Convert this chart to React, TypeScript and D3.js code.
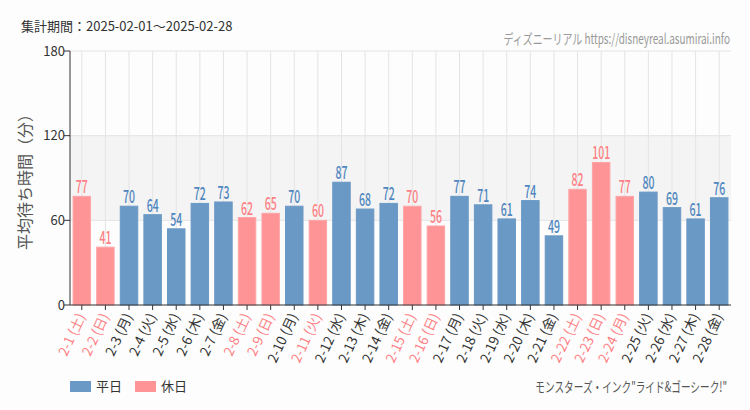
import React from "react";
import * as d3 from "d3";

const dates = ["2-1","2-2","2-3","2-4","2-5","2-6","2-7","2-8","2-9","2-10","2-11","2-12","2-13","2-14","2-15","2-16","2-17","2-18","2-19","2-20","2-21","2-22","2-23","2-24","2-25","2-26","2-27","2-28"];
const weekdays = ["土","日","月","火","水","木","金","土","日","月","火","水","木","金","土","日","月","火","水","木","金","土","日","月","火","水","木","金"];
const values = [77,41,70,64,54,72,73,62,65,70,60,87,68,72,70,56,77,71,61,74,49,82,101,77,80,69,61,76];
const holidays = [true,true,false,false,false,false,false,true,true,false,true,false,false,false,true,true,false,false,false,false,false,true,true,true,false,false,false,false];
const yTicks = [0, 60, 120, 180];

const W = 750, H = 410;
const M = { left: 70, right: 731, top: 51, bottom: 305 };
const BLUE = "#6a99c6";
const PINK = "#ff9497";
const BLUE_TXT = "#4f86bf";
const PINK_TXT = "#ff7f84";
const JP = "'Noto Sans CJK JP', 'Noto Sans', sans-serif";
const NARROW = "'Noto Sans CJK JP', 'Noto Sans', sans-serif";

export default function App() {
  const x = d3.scaleBand<number>().domain(d3.range(dates.length)).range([M.left, M.right]).paddingInner(0.26).paddingOuter(0.13);
  const y = d3.scaleLinear().domain([0, 180]).range([M.bottom, M.top]);
  const cx = (i: number) => (x(i) as number) + x.bandwidth() / 2;

  return (
    <svg width={W} height={H} style={{ position: "fixed", left: 0, top: 0, background: "#fcfdfc" }}>
      <rect x={0} y={0} width={W} height={H} fill="#fcfdfc" />
      <text x={21} y={31} fontFamily={JP} fontSize={13} fill="#333">集計期間：2025-02-01～2025-02-28</text>
      <text transform="translate(730,44) scale(0.71,1)" textAnchor="end" fontFamily={NARROW} fontSize={14} fill="#999">ディズニーリアル https://disneyreal.asumirai.info</text>

      {/* shaded band 60-120 */}
      <rect x={M.left} y={y(120)} width={M.right - M.left} height={y(60) - y(120)} fill="#f3f4f3" />

      {/* vertical grid */}
      {dates.map((_, i) => (
        <line key={"vg" + i} x1={cx(i)} x2={cx(i)} y1={M.top} y2={M.bottom} stroke="#e4e4e4" strokeWidth={1} />
      ))}
      {/* horizontal grid */}
      {yTicks.filter(t => t > 0).map(t => (
        <line key={"hg" + t} x1={M.left} x2={M.right} y1={y(t)} y2={y(t)} stroke="#e4e4e4" strokeWidth={1} />
      ))}

      {/* bars */}
      {values.map((v, i) => (
        <rect key={"b" + i} x={x(i)} y={y(v)} width={x.bandwidth()} height={M.bottom - y(v)}
          fill={holidays[i] ? PINK : BLUE} stroke={holidays[i] ? "#ffa5a8" : "#6a99c6"} strokeWidth={1} />
      ))}
      {/* value labels */}
      {values.map((v, i) => (
        <text key={"v" + i} transform={`translate(${cx(i)},${y(v) - 3}) scale(0.6,1)`} textAnchor="middle" fontFamily={NARROW} fontSize={17.5} fontWeight={500}
          fill={holidays[i] ? PINK_TXT : BLUE_TXT}>{v}</text>
      ))}

      {/* y axis */}
      <line x1={M.left} x2={M.left} y1={M.top} y2={M.bottom} stroke="#333" />
      {yTicks.map(t => (
        <g key={"yt" + t}>
          <line x1={M.left - 6} x2={M.left} y1={y(t)} y2={y(t)} stroke="#333" />
          <text x={M.left - 5} y={y(t) + 4.5} textAnchor="end" fontFamily={JP} fontSize={13} fill="#333">{t}</text>
        </g>
      ))}
      <text transform={`translate(31,${(M.top + M.bottom) / 2}) rotate(-90)`} textAnchor="middle" fontFamily={JP} fontSize={16} fill="#555">平均待ち時間（分）</text>

      {/* x axis */}
      <line x1={M.left} x2={M.right} y1={M.bottom} y2={M.bottom} stroke="#333" />
      {dates.map((d, i) => (
        <g key={"xt" + i}>
          <line x1={cx(i)} x2={cx(i)} y1={M.bottom} y2={M.bottom + 5} stroke="#333" />
          <text transform={`translate(${cx(i) + 4},${M.bottom + 11}) rotate(-65)`} textAnchor="end" fontFamily={JP} fontSize={13.5}
            fill={holidays[i] ? PINK_TXT : "#333"}>{`${d} (${weekdays[i]})`}</text>
        </g>
      ))}

      {/* legend */}
      <rect x={70} y={381} width={21} height={11} fill={BLUE} />
      <text x={96} y={391} fontFamily={JP} fontSize={13} fill="#333">平日</text>
      <rect x={135} y={381} width={21} height={11} fill={PINK} />
      <text x={161} y={391} fontFamily={JP} fontSize={13} fill="#333">休日</text>

      <text transform="translate(727,392) scale(0.69,1)" textAnchor="end" fontFamily={NARROW} fontSize={14} fill="#555">モンスターズ・インク"ライド&ゴーシーク!"</text>
    </svg>
  );
}
